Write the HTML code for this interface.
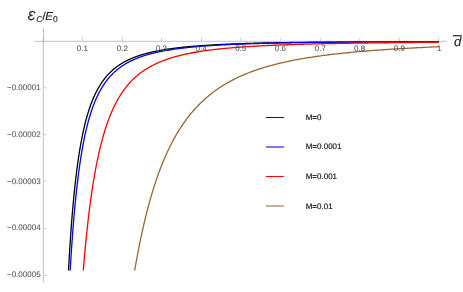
<!DOCTYPE html>
<html><head><meta charset="utf-8"><title>plot</title>
<style>
html,body{margin:0;padding:0;background:#fff;}
svg{display:block;filter:blur(0.3px);}
text{font-family:"Liberation Sans",sans-serif;text-rendering:geometricPrecision;}
.tick text{font-size:8px;fill:#5a5a5a;stroke:#5a5a5a;stroke-width:0.1px;}
.leg{font-size:8px;fill:#111;stroke:#111;stroke-width:0.15px;}
.lab{font-size:11.5px;font-style:italic;fill:#222;stroke:#222;stroke-width:0.12px;}
.sub{font-size:8.5px;}
.big{font-size:13px;}
.up{font-style:normal;}
</style></head><body>
<svg width="463" height="292" viewBox="0 0 463 292">
<defs><clipPath id="cp"><rect x="0" y="0" width="463" height="270.5"/></clipPath></defs>
<rect width="463" height="292" fill="#fff"/>
<g clip-path="url(#cp)" fill="none" stroke-width="1.3" stroke-linejoin="round">
<path d="M67.03,299.65 L67.30,293.88 L67.57,288.31 L67.84,282.91 L68.11,277.69 L68.37,272.64 L68.64,267.74 L68.91,263.00 L69.18,258.41 L69.44,253.95 L69.71,249.64 L69.98,245.45 L70.25,241.38 L70.51,237.43 L70.78,233.60 L71.05,229.88 L71.32,226.27 L71.58,222.75 L71.85,219.34 L72.12,216.02 L72.39,212.79 L72.65,209.65 L72.92,206.60 L73.19,203.62 L73.46,200.73 L73.72,197.91 L73.99,195.16 L74.26,192.49 L74.53,189.88 L74.79,187.34 L75.06,184.87 L75.33,182.45 L75.60,180.10 L75.86,177.80 L76.13,175.56 L76.40,173.37 L76.67,171.24 L76.93,169.15 L77.20,167.12 L77.47,165.13 L77.74,163.19 L78.00,161.30 L78.27,159.44 L78.54,157.63 L78.81,155.86 L79.08,154.13 L79.34,152.44 L79.61,150.79 L79.88,149.17 L80.15,147.58 L80.41,146.04 L80.68,144.52 L80.95,143.03 L81.22,141.58 L81.48,140.16 L81.75,138.77 L82.02,137.40 L82.29,136.07 L82.55,134.76 L82.82,133.48 L83.09,132.22 L83.36,130.99 L83.62,129.78 L83.89,128.60 L84.16,127.44 L84.43,126.30 L84.69,125.18 L84.96,124.09 L85.23,123.02 L85.50,121.96 L85.76,120.93 L86.03,119.92 L86.30,118.92 L86.57,117.94 L86.83,116.99 L87.10,116.04 L87.37,115.12 L87.64,114.21 L87.90,113.32 L88.17,112.45 L88.44,111.59 L88.71,110.74 L88.98,109.91 L89.24,109.10 L89.51,108.30 L89.78,107.51 L90.05,106.73 L90.31,105.97 L90.58,105.22 L90.85,104.49 L91.12,103.77 L91.38,103.05 L91.65,102.35 L91.92,101.67 L92.19,100.99 L92.45,100.32 L92.72,99.67 L92.99,99.03 L93.26,98.39 L93.52,97.77 L93.79,97.15 L94.06,96.55 L94.33,95.95 L94.59,95.37 L94.86,94.79 L95.13,94.22 L95.40,93.66 L95.66,93.11 L95.93,92.57 L96.20,92.04 L96.47,91.51 L96.73,90.99 L97.00,90.48 L97.27,89.98 L97.54,89.49 L97.80,89.00 L98.07,88.52 L98.34,88.04 L98.61,87.58 L98.87,87.12 L99.14,86.66 L99.41,86.21 L99.68,85.77 L99.95,85.34 L100.21,84.91 L100.48,84.49 L100.75,84.07 L101.02,83.66 L101.28,83.25 L101.55,82.86 L101.82,82.46 L102.09,82.07 L102.35,81.69 L102.62,81.31 L102.89,80.94 L103.16,80.57 L103.42,80.20 L103.69,79.85 L103.96,79.49 L104.23,79.14 L104.49,78.80 L104.76,78.46 L105.03,78.12 L105.30,77.79 L105.56,77.46 L105.83,77.14 L106.10,76.82 L106.37,76.51 L106.63,76.20 L106.90,75.89 L107.17,75.59 L107.44,75.29 L107.70,74.99 L107.97,74.70 L108.24,74.41 L108.51,74.13 L108.77,73.84 L109.04,73.57 L109.31,73.29 L109.58,73.02 L109.85,72.75 L110.11,72.49 L110.38,72.23 L110.65,71.97 L110.92,71.71 L111.18,71.46 L111.45,71.21 L111.72,70.96 L111.99,70.72 L112.25,70.48 L112.52,70.24 L112.79,70.01 L113.06,69.77 L113.32,69.54 L113.59,69.32 L113.86,69.09 L114.13,68.87 L114.39,68.65 L114.66,68.43 L114.93,68.22 L115.20,68.01 L115.46,67.80 L115.73,67.59 L116.00,67.38 L116.27,67.18 L116.53,66.98 L116.80,66.78 L117.07,66.58 L117.34,66.39 L117.60,66.20 L117.87,66.01 L118.14,65.82 L118.41,65.63 L118.67,65.45 L118.94,65.26 L119.21,65.08 L119.48,64.91 L119.74,64.73 L120.01,64.55 L120.28,64.38 L120.55,64.21 L120.82,64.04 L121.08,63.87 L121.35,63.71 L121.62,63.54 L121.89,63.38 L122.15,63.22 L122.42,63.06 L122.69,62.90 L122.96,62.75 L123.22,62.59 L123.49,62.44 L123.76,62.29 L124.03,62.14 L124.29,61.99 L124.56,61.84 L124.83,61.70 L125.10,61.55 L125.36,61.41 L125.63,61.27 L125.90,61.13 L126.17,60.99 L126.43,60.85 L126.70,60.72 L126.97,60.58 L127.24,60.45 L127.50,60.32 L127.77,60.19 L128.04,60.06 L128.31,59.93 L128.57,59.80 L128.84,59.68 L129.11,59.55 L129.38,59.43 L129.64,59.31 L129.91,59.18 L130.18,59.06 L130.45,58.95 L130.72,58.83 L130.98,58.71 L131.25,58.59 L131.52,58.48 L131.79,58.37 L132.05,58.25 L132.32,58.14 L132.59,58.03 L132.86,57.92 L133.12,57.81 L133.39,57.71 L133.66,57.60 L133.93,57.49 L134.19,57.39 L134.46,57.28 L134.73,57.18 L135.00,57.08 L135.26,56.98 L135.53,56.88 L135.80,56.78 L136.07,56.68 L136.33,56.58 L136.60,56.49 L136.87,56.39 L137.14,56.29 L137.40,56.20 L137.67,56.11 L137.94,56.01 L138.21,55.92 L138.47,55.83 L138.74,55.74 L139.01,55.65 L139.28,55.56 L139.54,55.47 L139.81,55.39 L140.08,55.30 L140.35,55.21 L140.61,55.13 L140.88,55.04 L141.15,54.96 L141.42,54.88 L141.69,54.79 L141.95,54.71 L142.22,54.63 L142.49,54.55 L142.76,54.47 L143.02,54.39 L143.29,54.31 L143.56,54.23 L143.83,54.16 L144.09,54.08 L144.36,54.00 L144.63,53.93 L144.90,53.85 L145.16,53.78 L145.43,53.71 L145.70,53.63 L145.97,53.56 L146.23,53.49 L146.50,53.42 L146.77,53.35 L147.04,53.28 L147.30,53.21 L147.57,53.14 L147.84,53.07 L148.11,53.00 L148.37,52.93 L148.64,52.87 L148.91,52.80 L149.18,52.73 L149.44,52.67 L149.71,52.60 L149.98,52.54 L150.25,52.47 L150.51,52.41 L150.78,52.35 L151.05,52.29 L151.32,52.22 L151.59,52.16 L151.85,52.10 L152.12,52.04 L152.39,51.98 L152.66,51.92 L152.92,51.86 L153.19,51.80 L153.46,51.74 L153.73,51.68 L153.99,51.63 L154.26,51.57 L154.53,51.51 L154.80,51.46 L155.06,51.40 L155.33,51.34 L155.60,51.29 L155.87,51.23 L156.13,51.18 L156.40,51.13 L156.67,51.07 L156.94,51.02 L157.20,50.97 L157.47,50.91 L157.74,50.86 L158.01,50.81 L158.27,50.76 L158.54,50.71 L158.81,50.66 L159.08,50.61 L159.34,50.56 L159.61,50.51 L159.88,50.46 L160.15,50.41 L160.41,50.36 L160.68,50.31 L160.95,50.26 L161.22,50.22 L161.48,50.17 L161.75,50.12 L162.02,50.08 L163.41,49.84 L164.80,49.61 L166.19,49.39 L167.58,49.18 L168.97,48.97 L170.37,48.77 L171.76,48.58 L173.15,48.39 L174.54,48.21 L175.93,48.04 L177.32,47.87 L178.71,47.70 L180.10,47.55 L181.49,47.39 L182.88,47.24 L184.27,47.10 L185.66,46.96 L187.06,46.82 L188.45,46.69 L189.84,46.56 L191.23,46.44 L192.62,46.32 L194.01,46.20 L195.40,46.09 L196.79,45.98 L198.18,45.87 L199.57,45.77 L200.96,45.67 L202.35,45.57 L203.75,45.47 L205.14,45.38 L206.53,45.29 L207.92,45.20 L209.31,45.11 L210.70,45.03 L212.09,44.95 L213.48,44.87 L214.87,44.79 L216.26,44.72 L217.65,44.64 L219.05,44.57 L220.44,44.50 L221.83,44.44 L223.22,44.37 L224.61,44.31 L226.00,44.24 L227.39,44.18 L228.78,44.12 L230.17,44.06 L231.56,44.01 L232.95,43.95 L234.34,43.90 L235.74,43.85 L237.13,43.79 L238.52,43.74 L239.91,43.69 L241.30,43.65 L242.69,43.60 L244.08,43.55 L245.47,43.51 L246.86,43.47 L248.25,43.42 L249.64,43.38 L251.03,43.34 L252.43,43.30 L253.82,43.26 L255.21,43.23 L256.60,43.19 L257.99,43.15 L259.38,43.12 L260.77,43.08 L262.16,43.05 L263.55,43.02 L264.94,42.98 L266.33,42.95 L267.72,42.92 L269.12,42.89 L270.51,42.86 L271.90,42.83 L273.29,42.81 L274.68,42.78 L276.07,42.75 L277.46,42.73 L278.85,42.70 L280.24,42.68 L281.63,42.65 L283.02,42.63 L284.42,42.60 L285.81,42.58 L287.20,42.56 L288.59,42.54 L289.98,42.51 L291.37,42.49 L292.76,42.47 L294.15,42.45 L295.54,42.43 L296.93,42.41 L298.32,42.40 L299.71,42.38 L301.11,42.36 L302.50,42.34 L303.89,42.33 L305.28,42.31 L306.67,42.29 L308.06,42.28 L309.45,42.26 L310.84,42.25 L312.23,42.23 L313.62,42.22 L315.01,42.20 L316.40,42.19 L317.80,42.18 L319.19,42.16 L320.58,42.15 L321.97,42.14 L323.36,42.12 L324.75,42.11 L326.14,42.10 L327.53,42.09 L328.92,42.08 L330.31,42.07 L331.70,42.06 L333.10,42.05 L334.49,42.04 L335.88,42.03 L337.27,42.02 L338.66,42.01 L340.05,42.00 L341.44,41.99 L342.83,41.98 L344.22,41.97 L345.61,41.96 L347.00,41.95 L348.39,41.95 L349.79,41.94 L351.18,41.93 L352.57,41.92 L353.96,41.92 L355.35,41.91 L356.74,41.90 L358.13,41.90 L359.52,41.89 L360.91,41.88 L362.30,41.88 L363.69,41.87 L365.08,41.87 L366.48,41.86 L367.87,41.86 L369.26,41.85 L370.65,41.85 L372.04,41.84 L373.43,41.84 L374.82,41.83 L376.21,41.83 L377.60,41.82 L378.99,41.82 L380.38,41.81 L381.77,41.81 L383.17,41.81 L384.56,41.80 L385.95,41.80 L387.34,41.80 L388.73,41.79 L390.12,41.79 L391.51,41.79 L392.90,41.79 L394.29,41.78 L395.68,41.78 L397.07,41.78 L398.47,41.78 L399.86,41.77 L401.25,41.77 L402.64,41.77 L404.03,41.77 L405.42,41.77 L406.81,41.76 L408.20,41.76 L409.59,41.76 L410.98,41.76 L412.37,41.76 L413.76,41.76 L415.16,41.76 L416.55,41.76 L417.94,41.75 L419.33,41.75 L420.72,41.75 L422.11,41.75 L423.50,41.75 L424.89,41.75 L426.28,41.75 L427.67,41.75 L429.06,41.75 L430.45,41.75 L431.85,41.75 L433.24,41.75 L434.63,41.75 L436.02,41.75 L437.41,41.75 L438.80,41.75" stroke="#000000"/>
<path d="M68.64,299.93 L68.91,294.48 L69.18,289.20 L69.44,284.08 L69.71,279.11 L69.98,274.30 L70.25,269.62 L70.51,265.09 L70.78,260.69 L71.05,256.41 L71.32,252.26 L71.58,248.23 L71.85,244.31 L72.12,240.50 L72.39,236.79 L72.65,233.18 L72.92,229.68 L73.19,226.26 L73.46,222.94 L73.72,219.71 L73.99,216.56 L74.26,213.49 L74.53,210.50 L74.79,207.59 L75.06,204.75 L75.33,201.98 L75.60,199.28 L75.86,196.65 L76.13,194.08 L76.40,191.57 L76.67,189.12 L76.93,186.74 L77.20,184.41 L77.47,182.13 L77.74,179.91 L78.00,177.74 L78.27,175.61 L78.54,173.54 L78.81,171.51 L79.08,169.53 L79.34,167.60 L79.61,165.70 L79.88,163.85 L80.15,162.04 L80.41,160.26 L80.68,158.53 L80.95,156.83 L81.22,155.17 L81.48,153.54 L81.75,151.95 L82.02,150.39 L82.29,148.86 L82.55,147.37 L82.82,145.90 L83.09,144.47 L83.36,143.06 L83.62,141.68 L83.89,140.33 L84.16,139.00 L84.43,137.70 L84.69,136.43 L84.96,135.18 L85.23,133.95 L85.50,132.75 L85.76,131.57 L86.03,130.41 L86.30,129.28 L86.57,128.16 L86.83,127.07 L87.10,125.99 L87.37,124.94 L87.64,123.90 L87.90,122.89 L88.17,121.89 L88.44,120.91 L88.71,119.94 L88.98,119.00 L89.24,118.07 L89.51,117.15 L89.78,116.26 L90.05,115.37 L90.31,114.51 L90.58,113.65 L90.85,112.82 L91.12,111.99 L91.38,111.18 L91.65,110.39 L91.92,109.60 L92.19,108.83 L92.45,108.07 L92.72,107.33 L92.99,106.59 L93.26,105.87 L93.52,105.16 L93.79,104.46 L94.06,103.78 L94.33,103.10 L94.59,102.43 L94.86,101.78 L95.13,101.13 L95.40,100.49 L95.66,99.87 L95.93,99.25 L96.20,98.65 L96.47,98.05 L96.73,97.46 L97.00,96.88 L97.27,96.31 L97.54,95.74 L97.80,95.19 L98.07,94.64 L98.34,94.10 L98.61,93.57 L98.87,93.05 L99.14,92.54 L99.41,92.03 L99.68,91.53 L99.95,91.03 L100.21,90.55 L100.48,90.07 L100.75,89.59 L101.02,89.13 L101.28,88.67 L101.55,88.21 L101.82,87.77 L102.09,87.33 L102.35,86.89 L102.62,86.46 L102.89,86.04 L103.16,85.62 L103.42,85.21 L103.69,84.80 L103.96,84.40 L104.23,84.00 L104.49,83.61 L104.76,83.23 L105.03,82.85 L105.30,82.47 L105.56,82.10 L105.83,81.73 L106.10,81.37 L106.37,81.02 L106.63,80.66 L106.90,80.32 L107.17,79.97 L107.44,79.63 L107.70,79.30 L107.97,78.97 L108.24,78.64 L108.51,78.32 L108.77,78.00 L109.04,77.69 L109.31,77.38 L109.58,77.07 L109.85,76.77 L110.11,76.47 L110.38,76.17 L110.65,75.88 L110.92,75.59 L111.18,75.30 L111.45,75.02 L111.72,74.74 L111.99,74.47 L112.25,74.20 L112.52,73.93 L112.79,73.66 L113.06,73.40 L113.32,73.14 L113.59,72.88 L113.86,72.63 L114.13,72.38 L114.39,72.13 L114.66,71.88 L114.93,71.64 L115.20,71.40 L115.46,71.16 L115.73,70.93 L116.00,70.70 L116.27,70.47 L116.53,70.24 L116.80,70.02 L117.07,69.79 L117.34,69.57 L117.60,69.36 L117.87,69.14 L118.14,68.93 L118.41,68.72 L118.67,68.51 L118.94,68.31 L119.21,68.10 L119.48,67.90 L119.74,67.70 L120.01,67.50 L120.28,67.31 L120.55,67.12 L120.82,66.93 L121.08,66.74 L121.35,66.55 L121.62,66.36 L121.89,66.18 L122.15,66.00 L122.42,65.82 L122.69,65.64 L122.96,65.47 L123.22,65.29 L123.49,65.12 L123.76,64.95 L124.03,64.78 L124.29,64.61 L124.56,64.45 L124.83,64.29 L125.10,64.12 L125.36,63.96 L125.63,63.80 L125.90,63.65 L126.17,63.49 L126.43,63.34 L126.70,63.18 L126.97,63.03 L127.24,62.88 L127.50,62.73 L127.77,62.59 L128.04,62.44 L128.31,62.30 L128.57,62.15 L128.84,62.01 L129.11,61.87 L129.38,61.73 L129.64,61.59 L129.91,61.46 L130.18,61.32 L130.45,61.19 L130.72,61.06 L130.98,60.93 L131.25,60.80 L131.52,60.67 L131.79,60.54 L132.05,60.41 L132.32,60.29 L132.59,60.16 L132.86,60.04 L133.12,59.92 L133.39,59.80 L133.66,59.68 L133.93,59.56 L134.19,59.44 L134.46,59.32 L134.73,59.21 L135.00,59.09 L135.26,58.98 L135.53,58.87 L135.80,58.75 L136.07,58.64 L136.33,58.53 L136.60,58.43 L136.87,58.32 L137.14,58.21 L137.40,58.11 L137.67,58.00 L137.94,57.90 L138.21,57.79 L138.47,57.69 L138.74,57.59 L139.01,57.49 L139.28,57.39 L139.54,57.29 L139.81,57.19 L140.08,57.09 L140.35,57.00 L140.61,56.90 L140.88,56.81 L141.15,56.71 L141.42,56.62 L141.69,56.53 L141.95,56.44 L142.22,56.35 L142.49,56.26 L142.76,56.17 L143.02,56.08 L143.29,55.99 L143.56,55.90 L143.83,55.81 L144.09,55.73 L144.36,55.64 L144.63,55.56 L144.90,55.48 L145.16,55.39 L145.43,55.31 L145.70,55.23 L145.97,55.15 L146.23,55.07 L146.50,54.99 L146.77,54.91 L147.04,54.83 L147.30,54.75 L147.57,54.67 L147.84,54.60 L148.11,54.52 L148.37,54.44 L148.64,54.37 L148.91,54.29 L149.18,54.22 L149.44,54.15 L149.71,54.07 L149.98,54.00 L150.25,53.93 L150.51,53.86 L150.78,53.79 L151.05,53.72 L151.32,53.65 L151.59,53.58 L151.85,53.51 L152.12,53.44 L152.39,53.38 L152.66,53.31 L152.92,53.24 L153.19,53.18 L153.46,53.11 L153.73,53.05 L153.99,52.98 L154.26,52.92 L154.53,52.85 L154.80,52.79 L155.06,52.73 L155.33,52.67 L155.60,52.60 L155.87,52.54 L156.13,52.48 L156.40,52.42 L156.67,52.36 L156.94,52.30 L157.20,52.24 L157.47,52.18 L157.74,52.13 L158.01,52.07 L158.27,52.01 L158.54,51.95 L158.81,51.90 L159.08,51.84 L159.34,51.79 L159.61,51.73 L159.88,51.68 L160.15,51.62 L160.41,51.57 L160.68,51.51 L160.95,51.46 L161.22,51.41 L161.48,51.35 L161.75,51.30 L162.02,51.25 L163.41,50.98 L164.80,50.73 L166.19,50.48 L167.58,50.24 L168.97,50.01 L170.37,49.79 L171.76,49.58 L173.15,49.37 L174.54,49.17 L175.93,48.97 L177.32,48.78 L178.71,48.60 L180.10,48.42 L181.49,48.25 L182.88,48.09 L184.27,47.93 L185.66,47.77 L187.06,47.62 L188.45,47.47 L189.84,47.33 L191.23,47.19 L192.62,47.06 L194.01,46.93 L195.40,46.80 L196.79,46.68 L198.18,46.56 L199.57,46.44 L200.96,46.33 L202.35,46.22 L203.75,46.11 L205.14,46.01 L206.53,45.91 L207.92,45.81 L209.31,45.71 L210.70,45.62 L212.09,45.53 L213.48,45.44 L214.87,45.35 L216.26,45.27 L217.65,45.19 L219.05,45.11 L220.44,45.03 L221.83,44.95 L223.22,44.88 L224.61,44.81 L226.00,44.74 L227.39,44.67 L228.78,44.60 L230.17,44.53 L231.56,44.47 L232.95,44.41 L234.34,44.35 L235.74,44.29 L237.13,44.23 L238.52,44.17 L239.91,44.12 L241.30,44.06 L242.69,44.01 L244.08,43.96 L245.47,43.91 L246.86,43.86 L248.25,43.81 L249.64,43.76 L251.03,43.72 L252.43,43.67 L253.82,43.63 L255.21,43.59 L256.60,43.54 L257.99,43.50 L259.38,43.46 L260.77,43.42 L262.16,43.38 L263.55,43.35 L264.94,43.31 L266.33,43.27 L267.72,43.24 L269.12,43.20 L270.51,43.17 L271.90,43.14 L273.29,43.10 L274.68,43.07 L276.07,43.04 L277.46,43.01 L278.85,42.98 L280.24,42.95 L281.63,42.92 L283.02,42.90 L284.42,42.87 L285.81,42.84 L287.20,42.82 L288.59,42.79 L289.98,42.76 L291.37,42.74 L292.76,42.72 L294.15,42.69 L295.54,42.67 L296.93,42.65 L298.32,42.62 L299.71,42.60 L301.11,42.58 L302.50,42.56 L303.89,42.54 L305.28,42.52 L306.67,42.50 L308.06,42.48 L309.45,42.46 L310.84,42.44 L312.23,42.42 L313.62,42.41 L315.01,42.39 L316.40,42.37 L317.80,42.36 L319.19,42.34 L320.58,42.32 L321.97,42.31 L323.36,42.29 L324.75,42.28 L326.14,42.26 L327.53,42.25 L328.92,42.23 L330.31,42.22 L331.70,42.20 L333.10,42.19 L334.49,42.18 L335.88,42.17 L337.27,42.15 L338.66,42.14 L340.05,42.13 L341.44,42.12 L342.83,42.10 L344.22,42.09 L345.61,42.08 L347.00,42.07 L348.39,42.06 L349.79,42.05 L351.18,42.04 L352.57,42.03 L353.96,42.02 L355.35,42.01 L356.74,42.00 L358.13,41.99 L359.52,41.98 L360.91,41.97 L362.30,41.96 L363.69,41.96 L365.08,41.95 L366.48,41.94 L367.87,41.93 L369.26,41.92 L370.65,41.92 L372.04,41.91 L373.43,41.90 L374.82,41.89 L376.21,41.89 L377.60,41.88 L378.99,41.87 L380.38,41.87 L381.77,41.86 L383.17,41.85 L384.56,41.85 L385.95,41.84 L387.34,41.84 L388.73,41.83 L390.12,41.83 L391.51,41.82 L392.90,41.81 L394.29,41.81 L395.68,41.80 L397.07,41.80 L398.47,41.80 L399.86,41.79 L401.25,41.79 L402.64,41.78 L404.03,41.78 L405.42,41.77 L406.81,41.77 L408.20,41.76 L409.59,41.76 L410.98,41.76 L412.37,41.75 L413.76,41.75 L415.16,41.75 L416.55,41.74 L417.94,41.74 L419.33,41.74 L420.72,41.73 L422.11,41.73 L423.50,41.73 L424.89,41.72 L426.28,41.72 L427.67,41.72 L429.06,41.72 L430.45,41.71 L431.85,41.71 L433.24,41.71 L434.63,41.71 L436.02,41.70 L437.41,41.70 L438.80,41.70" stroke="#0000ff"/>
<path d="M81.22,298.20 L81.48,294.36 L81.75,290.59 L82.02,286.90 L82.29,283.30 L82.55,279.76 L82.82,276.30 L83.09,272.92 L83.36,269.60 L83.62,266.35 L83.89,263.17 L84.16,260.05 L84.43,256.99 L84.69,253.99 L84.96,251.06 L85.23,248.18 L85.50,245.36 L85.76,242.59 L86.03,239.87 L86.30,237.21 L86.57,234.60 L86.83,232.04 L87.10,229.52 L87.37,227.06 L87.64,224.64 L87.90,222.26 L88.17,219.93 L88.44,217.64 L88.71,215.39 L88.98,213.19 L89.24,211.02 L89.51,208.89 L89.78,206.80 L90.05,204.75 L90.31,202.73 L90.58,200.75 L90.85,198.80 L91.12,196.89 L91.38,195.01 L91.65,193.16 L91.92,191.34 L92.19,189.56 L92.45,187.80 L92.72,186.08 L92.99,184.38 L93.26,182.71 L93.52,181.07 L93.79,179.45 L94.06,177.87 L94.33,176.30 L94.59,174.77 L94.86,173.25 L95.13,171.77 L95.40,170.30 L95.66,168.86 L95.93,167.44 L96.20,166.05 L96.47,164.67 L96.73,163.32 L97.00,161.99 L97.27,160.68 L97.54,159.39 L97.80,158.11 L98.07,156.86 L98.34,155.63 L98.61,154.42 L98.87,153.22 L99.14,152.04 L99.41,150.88 L99.68,149.74 L99.95,148.61 L100.21,147.50 L100.48,146.40 L100.75,145.33 L101.02,144.26 L101.28,143.22 L101.55,142.18 L101.82,141.17 L102.09,140.16 L102.35,139.17 L102.62,138.20 L102.89,137.24 L103.16,136.29 L103.42,135.36 L103.69,134.43 L103.96,133.52 L104.23,132.63 L104.49,131.74 L104.76,130.87 L105.03,130.01 L105.30,129.16 L105.56,128.32 L105.83,127.50 L106.10,126.68 L106.37,125.88 L106.63,125.09 L106.90,124.30 L107.17,123.53 L107.44,122.77 L107.70,122.01 L107.97,121.27 L108.24,120.54 L108.51,119.81 L108.77,119.10 L109.04,118.39 L109.31,117.70 L109.58,117.01 L109.85,116.33 L110.11,115.66 L110.38,115.00 L110.65,114.34 L110.92,113.70 L111.18,113.06 L111.45,112.43 L111.72,111.81 L111.99,111.19 L112.25,110.58 L112.52,109.98 L112.79,109.39 L113.06,108.81 L113.32,108.23 L113.59,107.66 L113.86,107.09 L114.13,106.53 L114.39,105.98 L114.66,105.44 L114.93,104.90 L115.20,104.37 L115.46,103.84 L115.73,103.32 L116.00,102.81 L116.27,102.30 L116.53,101.80 L116.80,101.31 L117.07,100.81 L117.34,100.33 L117.60,99.85 L117.87,99.38 L118.14,98.91 L118.41,98.45 L118.67,97.99 L118.94,97.53 L119.21,97.09 L119.48,96.64 L119.74,96.21 L120.01,95.77 L120.28,95.35 L120.55,94.92 L120.82,94.50 L121.08,94.09 L121.35,93.68 L121.62,93.27 L121.89,92.87 L122.15,92.48 L122.42,92.08 L122.69,91.69 L122.96,91.31 L123.22,90.93 L123.49,90.55 L123.76,90.18 L124.03,89.81 L124.29,89.45 L124.56,89.09 L124.83,88.73 L125.10,88.38 L125.36,88.03 L125.63,87.68 L125.90,87.34 L126.17,87.00 L126.43,86.67 L126.70,86.34 L126.97,86.01 L127.24,85.68 L127.50,85.36 L127.77,85.04 L128.04,84.73 L128.31,84.41 L128.57,84.11 L128.84,83.80 L129.11,83.50 L129.38,83.20 L129.64,82.90 L129.91,82.60 L130.18,82.31 L130.45,82.03 L130.72,81.74 L130.98,81.46 L131.25,81.18 L131.52,80.90 L131.79,80.63 L132.05,80.35 L132.32,80.08 L132.59,79.82 L132.86,79.55 L133.12,79.29 L133.39,79.03 L133.66,78.77 L133.93,78.52 L134.19,78.27 L134.46,78.02 L134.73,77.77 L135.00,77.53 L135.26,77.28 L135.53,77.04 L135.80,76.81 L136.07,76.57 L136.33,76.34 L136.60,76.10 L136.87,75.87 L137.14,75.65 L137.40,75.42 L137.67,75.20 L137.94,74.98 L138.21,74.76 L138.47,74.54 L138.74,74.32 L139.01,74.11 L139.28,73.90 L139.54,73.69 L139.81,73.48 L140.08,73.28 L140.35,73.07 L140.61,72.87 L140.88,72.67 L141.15,72.47 L141.42,72.27 L141.69,72.08 L141.95,71.88 L142.22,71.69 L142.49,71.50 L142.76,71.31 L143.02,71.13 L143.29,70.94 L143.56,70.76 L143.83,70.58 L144.09,70.40 L144.36,70.22 L144.63,70.04 L144.90,69.86 L145.16,69.69 L145.43,69.51 L145.70,69.34 L145.97,69.17 L146.23,69.00 L146.50,68.84 L146.77,68.67 L147.04,68.51 L147.30,68.34 L147.57,68.18 L147.84,68.02 L148.11,67.86 L148.37,67.70 L148.64,67.55 L148.91,67.39 L149.18,67.24 L149.44,67.08 L149.71,66.93 L149.98,66.78 L150.25,66.63 L150.51,66.49 L150.78,66.34 L151.05,66.19 L151.32,66.05 L151.59,65.91 L151.85,65.76 L152.12,65.62 L152.39,65.48 L152.66,65.34 L152.92,65.21 L153.19,65.07 L153.46,64.94 L153.73,64.80 L153.99,64.67 L154.26,64.54 L154.53,64.40 L154.80,64.27 L155.06,64.14 L155.33,64.02 L155.60,63.89 L155.87,63.76 L156.13,63.64 L156.40,63.51 L156.67,63.39 L156.94,63.27 L157.20,63.15 L157.47,63.03 L157.74,62.91 L158.01,62.79 L158.27,62.67 L158.54,62.55 L158.81,62.44 L159.08,62.32 L159.34,62.21 L159.61,62.09 L159.88,61.98 L160.15,61.87 L160.41,61.76 L160.68,61.65 L160.95,61.54 L161.22,61.43 L161.48,61.32 L161.75,61.22 L162.02,61.11 L163.41,60.57 L164.80,60.05 L166.19,59.55 L167.58,59.07 L168.97,58.61 L170.37,58.16 L171.76,57.73 L173.15,57.31 L174.54,56.91 L175.93,56.52 L177.32,56.14 L178.71,55.78 L180.10,55.43 L181.49,55.09 L182.88,54.76 L184.27,54.45 L185.66,54.14 L187.06,53.84 L188.45,53.55 L189.84,53.28 L191.23,53.01 L192.62,52.74 L194.01,52.49 L195.40,52.24 L196.79,52.00 L198.18,51.77 L199.57,51.55 L200.96,51.33 L202.35,51.12 L203.75,50.91 L205.14,50.71 L206.53,50.52 L207.92,50.33 L209.31,50.15 L210.70,49.97 L212.09,49.80 L213.48,49.63 L214.87,49.46 L216.26,49.30 L217.65,49.15 L219.05,49.00 L220.44,48.85 L221.83,48.71 L223.22,48.57 L224.61,48.43 L226.00,48.30 L227.39,48.17 L228.78,48.05 L230.17,47.92 L231.56,47.80 L232.95,47.69 L234.34,47.57 L235.74,47.46 L237.13,47.36 L238.52,47.25 L239.91,47.15 L241.30,47.05 L242.69,46.95 L244.08,46.85 L245.47,46.76 L246.86,46.67 L248.25,46.58 L249.64,46.49 L251.03,46.41 L252.43,46.32 L253.82,46.24 L255.21,46.16 L256.60,46.08 L257.99,46.01 L259.38,45.93 L260.77,45.86 L262.16,45.79 L263.55,45.72 L264.94,45.65 L266.33,45.58 L267.72,45.52 L269.12,45.45 L270.51,45.39 L271.90,45.33 L273.29,45.27 L274.68,45.21 L276.07,45.15 L277.46,45.10 L278.85,45.04 L280.24,44.99 L281.63,44.94 L283.02,44.88 L284.42,44.83 L285.81,44.78 L287.20,44.73 L288.59,44.69 L289.98,44.64 L291.37,44.59 L292.76,44.55 L294.15,44.50 L295.54,44.46 L296.93,44.42 L298.32,44.37 L299.71,44.33 L301.11,44.29 L302.50,44.25 L303.89,44.21 L305.28,44.18 L306.67,44.14 L308.06,44.10 L309.45,44.06 L310.84,44.03 L312.23,43.99 L313.62,43.96 L315.01,43.93 L316.40,43.89 L317.80,43.86 L319.19,43.83 L320.58,43.80 L321.97,43.77 L323.36,43.74 L324.75,43.71 L326.14,43.68 L327.53,43.65 L328.92,43.62 L330.31,43.59 L331.70,43.56 L333.10,43.54 L334.49,43.51 L335.88,43.48 L337.27,43.46 L338.66,43.43 L340.05,43.41 L341.44,43.38 L342.83,43.36 L344.22,43.33 L345.61,43.31 L347.00,43.29 L348.39,43.26 L349.79,43.24 L351.18,43.22 L352.57,43.20 L353.96,43.18 L355.35,43.15 L356.74,43.13 L358.13,43.11 L359.52,43.09 L360.91,43.07 L362.30,43.05 L363.69,43.03 L365.08,43.01 L366.48,43.00 L367.87,42.98 L369.26,42.96 L370.65,42.94 L372.04,42.92 L373.43,42.91 L374.82,42.89 L376.21,42.87 L377.60,42.85 L378.99,42.84 L380.38,42.82 L381.77,42.80 L383.17,42.79 L384.56,42.77 L385.95,42.76 L387.34,42.74 L388.73,42.73 L390.12,42.71 L391.51,42.70 L392.90,42.68 L394.29,42.67 L395.68,42.65 L397.07,42.64 L398.47,42.63 L399.86,42.61 L401.25,42.60 L402.64,42.58 L404.03,42.57 L405.42,42.56 L406.81,42.54 L408.20,42.53 L409.59,42.52 L410.98,42.51 L412.37,42.49 L413.76,42.48 L415.16,42.47 L416.55,42.46 L417.94,42.45 L419.33,42.43 L420.72,42.42 L422.11,42.41 L423.50,42.40 L424.89,42.39 L426.28,42.38 L427.67,42.37 L429.06,42.35 L430.45,42.34 L431.85,42.33 L433.24,42.32 L434.63,42.31 L436.02,42.30 L437.41,42.29 L438.80,42.28" stroke="#ff0000"/>
<path d="M130.18,299.32 L130.45,297.48 L130.72,295.65 L130.98,293.85 L131.25,292.07 L131.52,290.30 L131.79,288.54 L132.05,286.81 L132.32,285.09 L132.59,283.39 L132.86,281.71 L133.12,280.04 L133.39,278.38 L133.66,276.75 L133.93,275.13 L134.19,273.52 L134.46,271.93 L134.73,270.35 L135.00,268.79 L135.26,267.24 L135.53,265.71 L135.80,264.19 L136.07,262.69 L136.33,261.20 L136.60,259.72 L136.87,258.26 L137.14,256.81 L137.40,255.38 L137.67,253.95 L137.94,252.54 L138.21,251.15 L138.47,249.76 L138.74,248.39 L139.01,247.03 L139.28,245.69 L139.54,244.35 L139.81,243.03 L140.08,241.72 L140.35,240.42 L140.61,239.13 L140.88,237.85 L141.15,236.59 L141.42,235.33 L141.69,234.09 L141.95,232.86 L142.22,231.64 L142.49,230.43 L142.76,229.23 L143.02,228.04 L143.29,226.86 L143.56,225.69 L143.83,224.53 L144.09,223.38 L144.36,222.24 L144.63,221.11 L144.90,219.99 L145.16,218.88 L145.43,217.78 L145.70,216.69 L145.97,215.61 L146.23,214.53 L146.50,213.47 L146.77,212.41 L147.04,211.37 L147.30,210.33 L147.57,209.30 L147.84,208.28 L148.11,207.27 L148.37,206.26 L148.64,205.27 L148.91,204.28 L149.18,203.30 L149.44,202.33 L149.71,201.37 L149.98,200.41 L150.25,199.47 L150.51,198.53 L150.78,197.60 L151.05,196.67 L151.32,195.75 L151.59,194.84 L151.85,193.94 L152.12,193.05 L152.39,192.16 L152.66,191.28 L152.92,190.41 L153.19,189.54 L153.46,188.68 L153.73,187.83 L153.99,186.98 L154.26,186.14 L154.53,185.31 L154.80,184.48 L155.06,183.66 L155.33,182.85 L155.60,182.04 L155.87,181.24 L156.13,180.44 L156.40,179.66 L156.67,178.87 L156.94,178.10 L157.20,177.33 L157.47,176.56 L157.74,175.80 L158.01,175.05 L158.27,174.30 L158.54,173.56 L158.81,172.83 L159.08,172.09 L159.34,171.37 L159.61,170.65 L159.88,169.94 L160.15,169.23 L160.41,168.53 L160.68,167.83 L160.95,167.13 L161.22,166.45 L161.48,165.77 L161.75,165.09 L162.02,164.42 L163.41,161.00 L164.80,157.71 L166.19,154.55 L167.58,151.50 L168.97,148.56 L170.37,145.73 L171.76,142.99 L173.15,140.36 L174.54,137.82 L175.93,135.36 L177.32,132.99 L178.71,130.70 L180.10,128.49 L181.49,126.35 L182.88,124.28 L184.27,122.28 L185.66,120.34 L187.06,118.47 L188.45,116.66 L189.84,114.90 L191.23,113.20 L192.62,111.56 L194.01,109.96 L195.40,108.41 L196.79,106.91 L198.18,105.46 L199.57,104.04 L200.96,102.68 L202.35,101.35 L203.75,100.06 L205.14,98.80 L206.53,97.59 L207.92,96.40 L209.31,95.26 L210.70,94.14 L212.09,93.05 L213.48,92.00 L214.87,90.97 L216.26,89.98 L217.65,89.01 L219.05,88.06 L220.44,87.14 L221.83,86.25 L223.22,85.38 L224.61,84.53 L226.00,83.70 L227.39,82.90 L228.78,82.11 L230.17,81.35 L231.56,80.61 L232.95,79.88 L234.34,79.17 L235.74,78.48 L237.13,77.81 L238.52,77.15 L239.91,76.51 L241.30,75.89 L242.69,75.28 L244.08,74.68 L245.47,74.10 L246.86,73.53 L248.25,72.98 L249.64,72.44 L251.03,71.91 L252.43,71.39 L253.82,70.89 L255.21,70.40 L256.60,69.91 L257.99,69.44 L259.38,68.98 L260.77,68.53 L262.16,68.09 L263.55,67.66 L264.94,67.24 L266.33,66.83 L267.72,66.42 L269.12,66.03 L270.51,65.64 L271.90,65.27 L273.29,64.90 L274.68,64.53 L276.07,64.18 L277.46,63.83 L278.85,63.49 L280.24,63.16 L281.63,62.83 L283.02,62.51 L284.42,62.20 L285.81,61.89 L287.20,61.59 L288.59,61.30 L289.98,61.01 L291.37,60.72 L292.76,60.44 L294.15,60.17 L295.54,59.90 L296.93,59.64 L298.32,59.38 L299.71,59.13 L301.11,58.88 L302.50,58.64 L303.89,58.40 L305.28,58.17 L306.67,57.94 L308.06,57.71 L309.45,57.49 L310.84,57.27 L312.23,57.06 L313.62,56.85 L315.01,56.64 L316.40,56.44 L317.80,56.24 L319.19,56.05 L320.58,55.86 L321.97,55.67 L323.36,55.48 L324.75,55.30 L326.14,55.12 L327.53,54.94 L328.92,54.77 L330.31,54.60 L331.70,54.43 L333.10,54.27 L334.49,54.11 L335.88,53.95 L337.27,53.79 L338.66,53.64 L340.05,53.48 L341.44,53.33 L342.83,53.19 L344.22,53.04 L345.61,52.90 L347.00,52.76 L348.39,52.62 L349.79,52.49 L351.18,52.35 L352.57,52.22 L353.96,52.09 L355.35,51.96 L356.74,51.84 L358.13,51.71 L359.52,51.59 L360.91,51.47 L362.30,51.35 L363.69,51.23 L365.08,51.12 L366.48,51.00 L367.87,50.89 L369.26,50.78 L370.65,50.67 L372.04,50.56 L373.43,50.46 L374.82,50.35 L376.21,50.25 L377.60,50.15 L378.99,50.05 L380.38,49.95 L381.77,49.85 L383.17,49.75 L384.56,49.66 L385.95,49.56 L387.34,49.47 L388.73,49.38 L390.12,49.29 L391.51,49.20 L392.90,49.11 L394.29,49.02 L395.68,48.94 L397.07,48.85 L398.47,48.77 L399.86,48.69 L401.25,48.60 L402.64,48.52 L404.03,48.44 L405.42,48.36 L406.81,48.28 L408.20,48.21 L409.59,48.13 L410.98,48.06 L412.37,47.98 L413.76,47.91 L415.16,47.83 L416.55,47.76 L417.94,47.69 L419.33,47.62 L420.72,47.55 L422.11,47.48 L423.50,47.41 L424.89,47.34 L426.28,47.28 L427.67,47.21 L429.06,47.15 L430.45,47.08 L431.85,47.02 L433.24,46.95 L434.63,46.89 L436.02,46.83 L437.41,46.76 L438.80,46.70" stroke="#996633"/>
</g>
<g stroke="#666" stroke-opacity="0.40" stroke-width="1" fill="none">
<line x1="35" y1="41.3" x2="446.9" y2="41.3"/>
<line x1="43.4" y1="28" x2="43.4" y2="282.5"/>
</g>
<g stroke="#666" stroke-opacity="0.30" stroke-width="1" fill="none">
<line x1="43.4" y1="37.8" x2="43.4" y2="40.9"/>
<line x1="82.50" y1="37.8" x2="82.50" y2="40.9"/>
<line x1="122.50" y1="37.8" x2="122.50" y2="40.9"/>
<line x1="161.50" y1="37.8" x2="161.50" y2="40.9"/>
<line x1="201.40" y1="37.8" x2="201.40" y2="40.9"/>
<line x1="240.80" y1="37.8" x2="240.80" y2="40.9"/>
<line x1="280.45" y1="37.8" x2="280.45" y2="40.9"/>
<line x1="320.40" y1="37.8" x2="320.40" y2="40.9"/>
<line x1="359.70" y1="37.8" x2="359.70" y2="40.9"/>
<line x1="399.40" y1="37.8" x2="399.40" y2="40.9"/>
<line x1="438.70" y1="37.8" x2="438.70" y2="40.9"/>
<line x1="43.9" y1="87.8" x2="46.8" y2="87.8"/>
<line x1="43.9" y1="134.5" x2="46.8" y2="134.5"/>
<line x1="43.9" y1="181.4" x2="46.8" y2="181.4"/>
<line x1="43.9" y1="228.4" x2="46.8" y2="228.4"/>
<line x1="43.9" y1="275.3" x2="46.8" y2="275.3"/>
</g>
<g class="tick" text-anchor="middle">
<text x="82.40" y="50.9">0.1</text>
<text x="122.40" y="50.9">0.2</text>
<text x="161.40" y="50.9">0.3</text>
<text x="201.30" y="50.9">0.4</text>
<text x="240.70" y="50.9">0.5</text>
<text x="280.35" y="50.9">0.6</text>
<text x="320.30" y="50.9">0.7</text>
<text x="359.60" y="50.9">0.8</text>
<text x="399.30" y="50.9">0.9</text>
<text x="439.30" y="50.9">1</text>
</g>
<g class="tick" text-anchor="end">
<text x="40.6" y="90.10">−0.00001</text>
<text x="40.6" y="136.84">−0.00002</text>
<text x="40.6" y="183.58">−0.00003</text>
<text x="40.6" y="230.32">−0.00004</text>
<text x="40.6" y="277.06">−0.00005</text>
</g>
<line x1="266.0" y1="117.5" x2="283.85" y2="117.5" stroke="#1a1a1a" stroke-width="1.0"/>
<text class="leg" x="305.7" y="119.65">M=0</text>
<line x1="266.0" y1="147.0" x2="283.85" y2="147.0" stroke="#0000ff" stroke-width="1.05"/>
<text class="leg" x="305.7" y="149.1">M=0.0001</text>
<line x1="266.0" y1="176.5" x2="283.85" y2="176.5" stroke="#ff0000" stroke-width="1.05"/>
<text class="leg" x="305.7" y="178.6">M=0.001</text>
<line x1="266.0" y1="206.0" x2="283.85" y2="206.0" stroke="#996633" stroke-width="1.05"/>
<text class="leg" x="305.7" y="208.65">M=0.01</text>
<text class="lab"><tspan class="big" x="27.5" y="19.75">Ɛ</tspan><tspan class="sub" x="36.3" y="21.6">C</tspan><tspan class="up" x="42.6" y="19.6">/</tspan><tspan x="45.2" y="19.6">E</tspan><tspan class="sub up" x="52.9" y="21.5">0</tspan></text>
<text class="lab" style="font-size:13.2px" x="453.9" y="46.0">d</text>
<line x1="453.0" y1="35.7" x2="461.7" y2="35.7" stroke="#222" stroke-width="1.2"/>
</svg>
</body></html>
